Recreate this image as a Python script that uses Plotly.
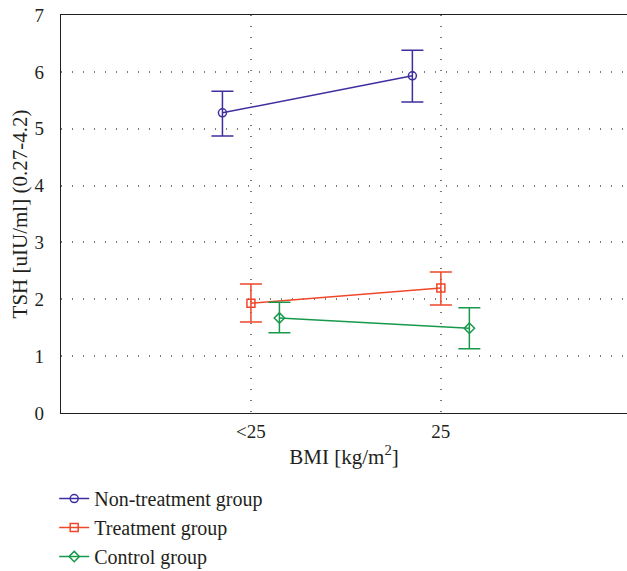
import plotly.graph_objects as go

categories = ["<25", "25"]
cat_pos = [0, 1]

nontreat_mean = [5.28, 5.93]
nontreat_upper = [5.66, 6.38]
nontreat_lower = [4.87, 5.47]

treat_mean = [1.93, 2.20]
treat_upper = [2.27, 2.48]
treat_lower = [1.60, 1.90]

control_mean = [1.67, 1.49]
control_upper = [1.95, 1.85]
control_lower = [1.41, 1.13]

series = [
    ("Non-treatment group", nontreat_mean, nontreat_upper, nontreat_lower, -0.15, "#3d2f9f", "circle-open"),
    ("Treatment group", treat_mean, treat_upper, treat_lower, 0.0, "#f0472a", "square-open"),
    ("Control group", control_mean, control_upper, control_lower, 0.15, "#17994c", "diamond-open"),
]

fig = go.Figure()
for name, m, up, lo, off, col, sym in series:
    xs = [p + off for p in cat_pos]
    fig.add_trace(go.Scatter(
        x=xs, y=m, name=name, mode="lines+markers",
        line=dict(color=col, width=1.5),
        marker=dict(symbol=sym, size=8, color=col, line=dict(color=col, width=1.5)),
        error_y=dict(type="data", symmetric=False,
                     array=[u - v for u, v in zip(up, m)],
                     arrayminus=[v - l for v, l in zip(m, lo)],
                     color=col, thickness=1.5, width=11),
    ))

font_family = "Liberation Serif"
txt = "#231f20"
grid = dict(showgrid=True, gridcolor="#7a7a7a", griddash="1px,10px", gridwidth=1.5)
fig.update_layout(
    width=627, height=571,
    margin=dict(l=61, r=0, t=15, b=158),
    plot_bgcolor="white", paper_bgcolor="white",
    font=dict(family=font_family, size=19, color=txt),
    showlegend=True,
    legend=dict(x=-0.012, y=0.161, yref="container", xanchor="left", yanchor="top",
                font=dict(size=20, family=font_family, color=txt),
                bgcolor="rgba(0,0,0,0)", itemwidth=30),
    xaxis=dict(
        range=[-1, 1.98], tickmode="array", tickvals=cat_pos, ticktext=categories,
        zeroline=False, showline=True, linecolor=txt, linewidth=1.2, mirror=True,
        ticks="", automargin=False, ticklabelstandoff=1,
        title=dict(text="BMI [kg/m<sup>2</sup>]", font=dict(size=21), standoff=8),
        tickfont=dict(size=19), **grid,
    ),
    yaxis=dict(
        range=[0, 7], dtick=1, tick0=0,
        zeroline=False, showline=True, linecolor=txt, linewidth=1.2, mirror=True,
        ticks="", automargin=False, ticklabelstandoff=12,
        title=dict(text="TSH [uIU/ml] (0.27-4.2)", font=dict(size=21), standoff=1),
        tickfont=dict(size=19), **grid,
    ),
)

fig.write_html("out.html", config={"displayModeBar": False},
               post_script="document.body.style.margin='0';")
